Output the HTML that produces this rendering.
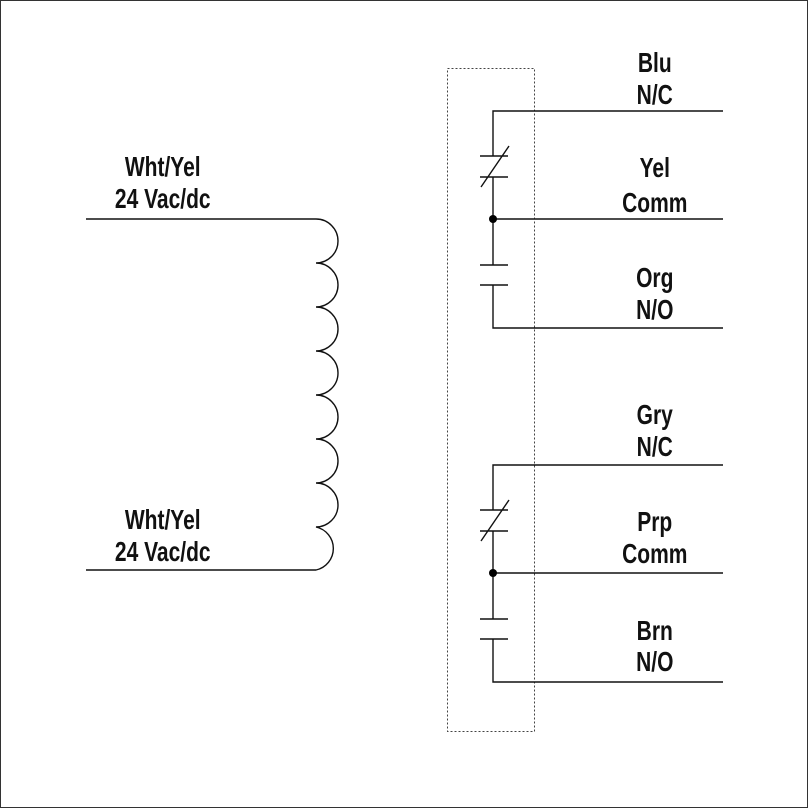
<!DOCTYPE html>
<html><head><style>
body{margin:0;background:#fff}
svg{display:block}
text{font-family:"Liberation Sans",sans-serif;font-weight:bold;font-size:28px;fill:#111;text-anchor:middle}
</style></head><body>
<svg width="808" height="808" viewBox="0 0 808 808">
<rect x="0.5" y="0.5" width="807" height="807" fill="#fff" stroke="#333" stroke-width="1"/>
<rect x="447.5" y="68.5" width="87" height="663" fill="none" stroke="#444" stroke-width="1" stroke-dasharray="2,2"/>
<g fill="none" stroke="#111" stroke-width="1.4">
<path d="M86 219 H316 a22 22 0 0 1 0 44 a22 22 0 0 1 0 44 a22 22 0 0 1 0 44 a22 22 0 0 1 0 44 a22 22 0 0 1 0 44 a22 22 0 0 1 0 44 a22 22 0 0 1 0 44 a22 22 0 0 1 0 43 H86"/>
<g id="c">
<path d="M723 111 H493 V156 M480 156 H508 M480 177 H508 M481 187 L509 146 M493 177 V265 M480 265 H508 M480 285 H508 M493 285 V328 H723 M493 219 H723"/>
</g>
<use href="#c" y="354"/>
</g>
<circle cx="493" cy="219" r="4" fill="#000"/>
<circle cx="493" cy="573" r="4" fill="#000"/>
<g transform="scale(0.75,1)">
<text x="217" y="176">Wht/Yel</text><text x="217" y="208">24 Vac/dc</text>
<text x="217" y="529">Wht/Yel</text><text x="217" y="561">24 Vac/dc</text>
<text x="873" y="72">Blu</text><text x="873" y="104">N/C</text>
<text x="873" y="177">Yel</text><text x="873" y="212">Comm</text>
<text x="873" y="287">Org</text><text x="873" y="319">N/O</text>
<text x="873" y="424">Gry</text><text x="873" y="456">N/C</text>
<text x="873" y="531">Prp</text><text x="873" y="563">Comm</text>
<text x="873" y="640">Brn</text><text x="873" y="671">N/O</text>
</g>
</svg>
</body></html>
